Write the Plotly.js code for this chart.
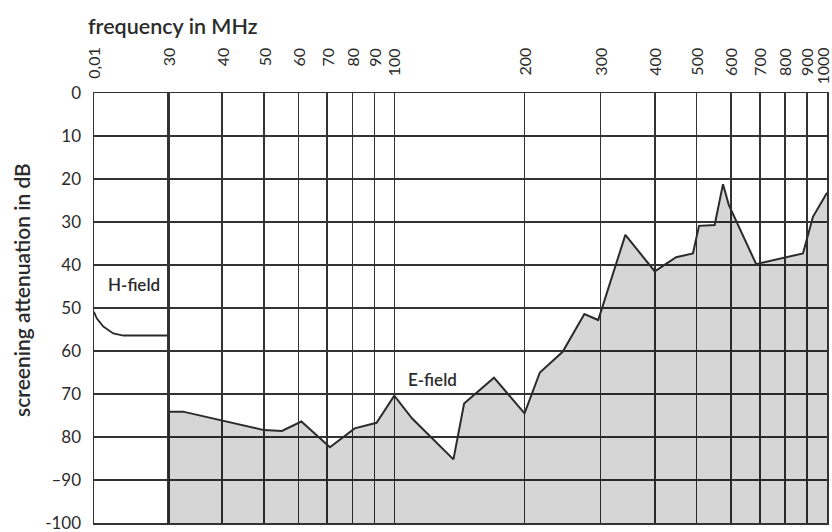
<!DOCTYPE html>
<html>
<head>
<meta charset="utf-8">
<script src="https://cdn.plot.ly/plotly-3.0.1.min.js"></script>
<style>html,body{margin:0;padding:0;background:#fff;}#chart{width:832px;height:532px;}</style>
</head>
<body>
<div id="chart"></div>
<script>
// H-field (low-frequency segment, 0.01 ... 30 MHz)
const hFreq = [0.01, 0.0134, 0.0274, 0.0807, 0.238, 30];
const hAtt  = [50.9, 52.4, 54.3, 55.9, 56.4, 56.4];

// E-field (30 ... 1000 MHz)
const eFreq = [30, 32.5, 50, 55, 61, 71, 81, 91, 100, 110, 137, 145, 170, 200, 217, 245, 275, 296, 342, 400, 448, 490, 506, 550, 575, 593, 686, 784, 880, 928, 1000];
const eAtt  = [74.1, 74.1, 78.4, 78.6, 76.4, 82.4, 78, 76.7, 70.4, 75.7, 85.2, 72.2, 66.2, 74.5, 65, 60.2, 51.4, 52.8, 33, 41.5, 38.2, 37.3, 30.9, 30.7, 21.2, 26, 39.8, 38.4, 37.3, 28.8, 23.2];

// axis ticks
const xLowTicks = [0.01];
const xLowLabels = ['0,01'];
const xTicks = [30, 40, 50, 60, 70, 80, 90, 100, 200, 300, 400, 500, 600, 700, 800, 900, 1000];
const xLabels = ['30','40','50','60','70','80','90','100','200','300','400','500','600','700','800','900','1000'];
const yTicks = [0, 10, 20, 30, 40, 50, 60, 70, 80, 90, 100];
const yLabels = ['0','10','20','30','40','50','60','70','80','–90','-100'];

const yMax = yTicks[yTicks.length - 1];
const FONT = 'Lato, "Open Sans", sans-serif';
const INK = '#2b2b2b';
const GRID = '#333333';

const traces = [
  {x: hFreq, y: hAtt, xaxis: 'x', yaxis: 'y', mode: 'lines', line: {color: INK, width: 1.8}, hoverinfo: 'skip'},
  {x: [eFreq[0], eFreq[eFreq.length - 1]], y: [yMax, yMax], xaxis: 'x2', yaxis: 'y', mode: 'lines', line: {width: 0, color: 'rgba(0,0,0,0)'}, hoverinfo: 'skip'},
  {x: eFreq, y: eAtt, xaxis: 'x2', yaxis: 'y', mode: 'lines', line: {color: INK, width: 2}, fill: 'tonexty', fillcolor: 'rgba(0,0,0,0.16)', hoverinfo: 'skip'}
];

const M = {l: 94, r: 5, t: 93, b: 9};
const W = 832, H = 532;
const plotW = W - M.l - M.r, plotH = H - M.t - M.b;
const split = 74 / plotW;
const py = px => (H - M.b - px) / plotH;
const axCommon = {
  type: 'log', side: 'top', showgrid: true, gridcolor: GRID, gridwidth: 1.5,
  showline: true, mirror: true, linecolor: GRID, linewidth: 1.5,
  ticks: '', showticklabels: false, zeroline: false, fixedrange: true
};

// x tick labels: rotated, top-aligned (like the reference), placed on the axes' own scales
const tickSize = 16;
const ctx = document.createElement('canvas').getContext('2d');
ctx.font = tickSize + 'px Lato';
const labelTopPx = 47;
const tickFont = {family: FONT, size: tickSize, color: INK};
function tickAnn(label, v, xref, shift) {
  const w = ctx.measureText(label).width;
  const cy = labelTopPx + w / 2 + 1;
  return {text: label, xref: xref, yref: 'paper', x: Math.log10(v), y: py(cy), xshift: shift || 0,
    textangle: -90, xanchor: 'center', yanchor: 'middle', showarrow: false, font: tickFont};
}
const tickAnns = [];
xLowTicks.forEach((v, i) => tickAnns.push(tickAnn(xLowLabels[i], v, 'x')));
xTicks.forEach((v, i) => tickAnns.push(tickAnn(xLabels[i], v, 'x2', i === xTicks.length - 1 ? -4 : 0)));

const layout = {
  width: W, height: H,
  margin: M,
  paper_bgcolor: '#fff', plot_bgcolor: '#fff',
  showlegend: false,
  xaxis: Object.assign({}, axCommon, {
    domain: [0, split], range: [Math.log10(0.01), Math.log10(30)],
    tickmode: 'array', tickvals: xLowTicks, anchor: 'y'
  }),
  xaxis2: Object.assign({}, axCommon, {
    domain: [split, 1], range: [Math.log10(30), Math.log10(1000)],
    tickmode: 'array', tickvals: xTicks, anchor: 'y'
  }),
  yaxis: {
    range: [yMax, 0], tickmode: 'array', tickvals: yTicks, ticktext: yLabels,
    showgrid: true, gridcolor: GRID, gridwidth: 1.5,
    showline: true, mirror: 'all', linecolor: GRID, linewidth: 1.5,
    ticks: '', tickfont: {family: FONT, size: 17, color: INK},
    zeroline: false, fixedrange: true, ticklabelstandoff: 8, ticklabeloverflow: 'allow'
  },
  annotations: tickAnns.concat([
    {text: 'frequency in MHz', xref: 'paper', yref: 'paper', x: (86 - M.l) / plotW, y: py(26), xanchor: 'left', yanchor: 'middle',
     showarrow: false, font: {family: FONT, size: 21.5, color: INK, weight: 600}},
    {text: 'screening attenuation in dB', xref: 'paper', yref: 'paper', x: (21 - M.l) / plotW, y: py(290), textangle: -90,
     xanchor: 'center', yanchor: 'middle', showarrow: false, font: {family: FONT, size: 21, color: INK, weight: 600}},
    {text: 'H-field', xref: 'x', yref: 'y', x: -0.121, y: 44.6, showarrow: false,
     font: {family: FONT, size: 17, color: INK, weight: 600}},
    {text: 'E-field', xref: 'x2', yref: 'y', x: 2.088, y: 66.7, showarrow: false,
     font: {family: FONT, size: 17, color: INK, weight: 600}}
  ])
};

Plotly.newPlot('chart', traces, layout, {staticPlot: true, displayModeBar: false});
</script>
</body>
</html>
